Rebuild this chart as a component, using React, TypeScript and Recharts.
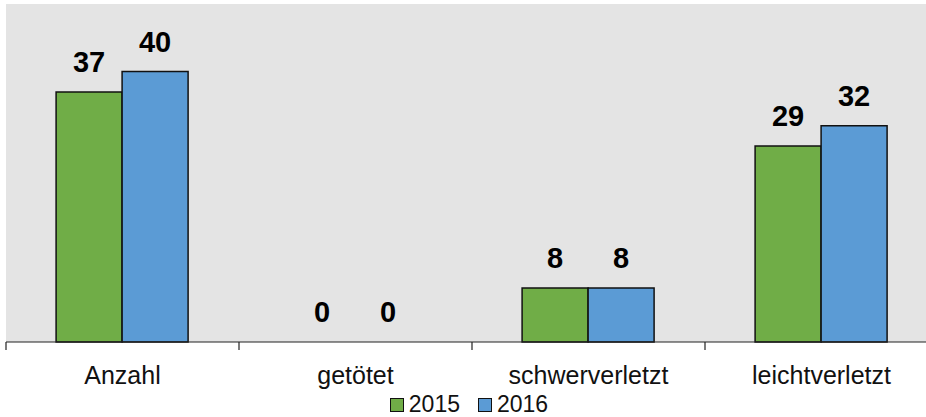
import React from "react";
import { BarChart, Bar, XAxis, YAxis, CartesianGrid, LabelList, Legend, Rectangle } from "recharts";

const categories = ["Anzahl", "getötet", "schwerverletzt", "leichtverletzt"];
const values2015 = [37, 0, 8, 29];
const values2016 = [40, 0, 8, 32];
const seriesNames = ["2015", "2016"];
const yDomain: [number, number] = [0, 50];

const data = categories.map((c, i) => ({
  name: c,
  [seriesNames[0]]: values2015[i],
  [seriesNames[1]]: values2016[i],
}));

const FONT = "'Liberation Sans', Arial, sans-serif";

const CategoryTick = (props: any) => {
  const { x, y, payload, width, visibleTicksCount, index } = props;
  const band = width / visibleTicksCount;
  const left = x - band / 2;
  return (
    <g>
      <line x1={left} y1={y} x2={left} y2={y + 8} stroke="#222" strokeWidth={1.2} />
      {index === visibleTicksCount - 1 && (
        <line x1={left + band} y1={y} x2={left + band} y2={y + 8} stroke="#222" strokeWidth={1.2} />
      )}
      <text x={x} y={y + 42} textAnchor="middle" fontFamily={FONT} fontSize={25} fill="#111">
        {payload.value}
      </text>
    </g>
  );
};

const ValueLabel = (props: any) => {
  const { x, y, width, height, value } = props;
  const top = Number(y) + (Number(value) === 0 ? Number(height) : 0);
  return (
    <text
      x={Number(x) + Number(width) / 2}
      y={top - 20}
      textAnchor="middle"
      fontFamily={FONT}
      fontSize={29}
      fontWeight="bold"
      fill="#000"
    >
      {String(value)}
    </text>
  );
};

const BarShape = (props: any) => {
  if (Number(props.value) === 0) return <g />;
  return <Rectangle {...props} />;
};

const LegendContent = (props: any) => {
  const { payload } = props;
  return (
    <div
      style={{
        display: "flex",
        justifyContent: "center",
        alignItems: "center",
        height: 25,
        paddingTop: 0,
        paddingRight: 6,
        boxSizing: "border-box",
        fontFamily: FONT,
        fontSize: 23,
        color: "#111",
      }}
    >
      {payload.map((p: any, i: number) => (
        <div key={i} style={{ display: "flex", alignItems: "center", marginRight: i === 0 ? 18 : 0 }}>
          <span
            style={{
              display: "inline-block",
              width: 12,
              height: 12,
              background: p.color,
              border: "1.5px solid #111",
              marginRight: 5,
            }}
          />
          <span style={{ lineHeight: "25px" }}>{p.value}</span>
        </div>
      ))}
    </div>
  );
};

export default function App() {
  return (
    <div style={{ position: "absolute", left: 0, top: 0, width: 926, height: 417, overflow: "hidden", background: "#fff" }}>
      <BarChart
        width={940}
        height={417}
        data={data}
        margin={{ top: 4, right: 2, bottom: 0, left: 6 }}
        barCategoryGap="21.5%"
        barGap={0}
      >
        <CartesianGrid horizontal={false} vertical={false} fill="#e4e4e4" stroke="none" />
        <YAxis hide domain={yDomain} />
        <XAxis
          dataKey="name"
          height={50}
          tickLine={false}
          tickSize={0}
          tickMargin={0}
          axisLine={{ stroke: "#222", strokeWidth: 1.2 }}
          tick={<CategoryTick />}
          interval={0}
        />
        <Legend verticalAlign="bottom" height={25} content={<LegendContent />} />
        <Bar
          dataKey={seriesNames[0]}
          fill="#70ad47"
          stroke="#111"
          strokeWidth={1.5}
          minPointSize={0.01}
          shape={<BarShape />}
          isAnimationActive={false}
        >
          <LabelList dataKey={seriesNames[0]} content={<ValueLabel />} />
        </Bar>
        <Bar
          dataKey={seriesNames[1]}
          fill="#5b9bd5"
          stroke="#111"
          strokeWidth={1.5}
          minPointSize={0.01}
          shape={<BarShape />}
          isAnimationActive={false}
        >
          <LabelList dataKey={seriesNames[1]} content={<ValueLabel />} />
        </Bar>
      </BarChart>
    </div>
  );
}
